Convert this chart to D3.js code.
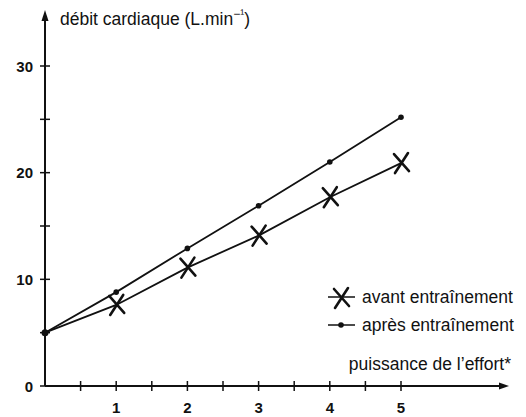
<!DOCTYPE html>
<html>
	<head>
		<meta charset="utf-8" />
		<title>débit cardiaque</title>
		<style type="text/css">
			body { margin: 0; background: #fff; }
			svg { display: block; font-family: "Liberation Sans", Arial, sans-serif; }
		</style>
	</head>
	<body>
		<svg width="526" height="417"></svg>

		<script type="text/javascript" src="https://cdn.jsdelivr.net/npm/d3@7"></script>
		<script type="text/javascript">
			// données
			var puissance = [0, 1, 2, 3, 4, 5];
			var avant = [5, 7.6, 11.1, 14.1, 17.7, 20.9];
			var apres = [5, 8.8, 12.9, 16.9, 21.0, 25.2];
			var xTicks = [1, 2, 3, 4, 5];
			var yTicks = [0, 10, 20, 30];

			var svg = d3.select("svg");

			var x = d3.scaleLinear().domain([0, 5]).range([45, 401]);
			var y = d3.scaleLinear().domain([0, 30]).range([386, 66]);

			var ink = "#111";

			// axes
			var axes = svg.append("g").attr("stroke", ink).attr("stroke-width", 2);
			axes.append("line").attr("x1", x(0)).attr("x2", 502).attr("y1", y(0)).attr("y2", y(0));
			axes.append("line").attr("x1", x(0)).attr("x2", x(0)).attr("y1", y(0)).attr("y2", 18);
			svg.append("path").attr("fill", ink)
				.attr("d", "M509," + y(0) + "L499," + (y(0) - 3.5) + "L499," + (y(0) + 3.5) + "Z");
			svg.append("path").attr("fill", ink)
				.attr("d", "M" + x(0) + ",10L" + (x(0) - 3.5) + ",21L" + (x(0) + 3.5) + ",21Z");

			// graduations
			var xMinor = d3.range(0.5, 5.01, 0.5);
			svg.append("g").attr("stroke", ink).attr("stroke-width", 1.5)
				.selectAll("line").data(xMinor).enter().append("line")
				.attr("x1", function(d) { return x(d); })
				.attr("x2", function(d) { return x(d); })
				.attr("y1", y(0) - 5).attr("y2", y(0) + 5);
			var yMinor = d3.range(0, 30.01, 5);
			svg.append("g").attr("stroke", ink).attr("stroke-width", 1.5)
				.selectAll("line").data(yMinor).enter().append("line")
				.attr("x1", x(0) - 5).attr("x2", x(0) + 5)
				.attr("y1", function(d) { return y(d); })
				.attr("y2", function(d) { return y(d); });

			svg.append("g").attr("font-size", 15).attr("font-weight", "bold").attr("fill", ink)
				.attr("text-anchor", "middle")
				.selectAll("text").data(xTicks).enter().append("text")
				.attr("x", function(d) { return x(d); })
				.attr("y", 413)
				.text(function(d) { return d; });
			svg.append("g").attr("font-size", 15).attr("font-weight", "bold").attr("fill", ink)
				.attr("text-anchor", "end")
				.selectAll("text").data(yTicks).enter().append("text")
				.attr("x", 33)
				.attr("y", function(d) { return y(d) + 5.5; })
				.text(function(d) { return d; });

			// titres des axes
			var titre = svg.append("text").attr("x", 60).attr("y", 25)
				.attr("font-size", 17.5).attr("fill", ink);
			titre.append("tspan").text("débit cardiaque (L.min");
			titre.append("tspan").attr("font-size", 12).attr("dy", -7).text("\u2212\u00b9");
			titre.append("tspan").attr("dy", 7).text(")");

			svg.append("text").attr("x", 511).attr("y", 370).attr("text-anchor", "end")
				.attr("font-size", 17.5).attr("fill", ink).text("puissance de l\u2019effort*");

			// courbes
			var line = d3.line()
				.x(function(d, i) { return x(puissance[i]); })
				.y(function(d) { return y(d); });

			svg.append("path").datum(avant).attr("d", line)
				.attr("fill", "none").attr("stroke", ink).attr("stroke-width", 1.8);
			svg.append("path").datum(apres).attr("d", line)
				.attr("fill", "none").attr("stroke", ink).attr("stroke-width", 1.8);

			function croix(g, cx, cy) {
				g.append("path")
					.attr("d", "M" + (cx - 7) + "," + (cy - 9) + "L" + (cx + 8) + "," + (cy + 8) +
						"M" + (cx + 7) + "," + (cy - 10) + "L" + (cx - 6) + "," + (cy + 10))
					.attr("stroke", ink).attr("stroke-width", 2.6).attr("stroke-linecap", "round")
					.attr("fill", "none");
			}

			var marquesAvant = svg.append("g");
			avant.forEach(function(d, i) {
				if (i > 0) croix(marquesAvant, x(puissance[i]), y(d));
			});

			svg.append("g").selectAll("circle").data(apres).enter().append("circle")
				.attr("cx", function(d, i) { return x(puissance[i]); })
				.attr("cy", function(d) { return y(d); })
				.attr("r", function(d, i) { return i === 0 ? 3.5 : 2.8; })
				.attr("fill", ink);

			// légende
			var leg = svg.append("g");
			leg.append("line").attr("x1", 328).attr("x2", 355).attr("y1", 297).attr("y2", 297)
				.attr("stroke", ink).attr("stroke-width", 1.5);
			croix(leg, 341, 298);
			leg.append("text").attr("x", 362).attr("y", 303).attr("font-size", 17.5).attr("fill", ink)
				.text("avant entraînement");
			leg.append("line").attr("x1", 328).attr("x2", 355).attr("y1", 325).attr("y2", 325)
				.attr("stroke", ink).attr("stroke-width", 1.5);
			leg.append("circle").attr("cx", 341).attr("cy", 325).attr("r", 2.8).attr("fill", ink);
			leg.append("text").attr("x", 362).attr("y", 331).attr("font-size", 17.5).attr("fill", ink)
				.text("après entraînement");
		</script>
	</body>
</html>
